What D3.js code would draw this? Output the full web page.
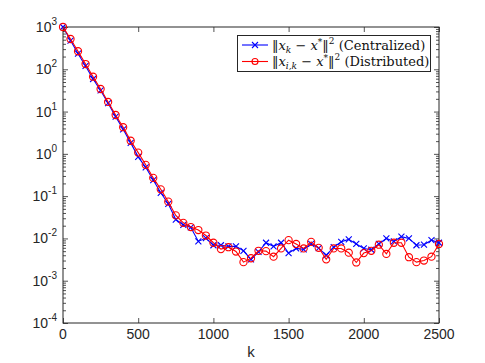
<!DOCTYPE html>
<html><head><meta charset="utf-8">
<script src="https://cdn.jsdelivr.net/npm/d3@7/dist/d3.min.js"></script>
<style>body{margin:0;background:#fff}svg{display:block}</style>
</head><body><svg id="c" width="485" height="363"></svg>
<script>
const kValues = [0,50,100,150,200,250,300,350,400,450,500,550,600,650,700,750,800,850,900,950,1000,1050,1100,1150,1200,1250,1300,1350,1400,1450,1500,1550,1600,1650,1700,1750,1800,1850,1900,1950,2000,2050,2100,2150,2200,2250,2300,2350,2400,2450,2500];
const centralized = [1000,479,234,120,58.9,31.6,15.8,7.6,3.8,1.82,0.85,0.48,0.24,0.12,0.066,0.028,0.0209,0.0182,0.0085,0.0102,0.0069,0.0069,0.0065,0.0065,0.0051,0.0032,0.0048,0.0079,0.0065,0.0079,0.0045,0.0058,0.0055,0.0074,0.0059,0.0040,0.0062,0.0083,0.0095,0.0074,0.0058,0.0054,0.0074,0.0100,0.0085,0.0110,0.0100,0.0069,0.0071,0.0091,0.0079];
const distributed = [1000,520,267,133,66.8,34.2,16.9,8.3,4.27,2.04,1.07,0.55,0.27,0.145,0.074,0.035,0.0234,0.0186,0.0158,0.0117,0.0079,0.0056,0.0062,0.0049,0.00275,0.0034,0.0051,0.0050,0.0037,0.0058,0.0091,0.0074,0.0058,0.0083,0.0060,0.0032,0.0058,0.0058,0.0046,0.0027,0.0045,0.0051,0.0071,0.0043,0.0079,0.0079,0.0036,0.00275,0.0030,0.0037,0.0074];
const xTicks = [0,500,1000,1500,2000,2500];
const yExponents = [3,2,1,0,-1,-2,-3,-4];
const xLabel = "k";

const L=63,R=439,T=27,B=323;
const svg=d3.select("#c");
const x=d3.scaleLinear().domain([0,2500]).range([L,R]);
const y=d3.scaleLog().domain([1e-4,1e3]).range([B,T]);
const axisCol="#262626";
const font="'Liberation Sans', Arial, sans-serif";

// minor ticks
const minor=[];
for(let e=-4;e<3;e++) for(let m=2;m<=9;m++) minor.push(m*Math.pow(10,e));
const g=svg.append("g");
g.append("g").attr("transform",`translate(${L},0)`).call(d3.axisRight(y).tickValues(minor).tickSize(3).tickFormat(""));
g.append("g").attr("transform",`translate(${L},0)`).call(d3.axisRight(y).tickValues(yExponents.map(e=>Math.pow(10,e))).tickSize(5).tickFormat(""));
g.append("g").attr("transform",`translate(${R},0)`).call(d3.axisLeft(y).tickValues(minor).tickSize(3).tickFormat(""));
g.append("g").attr("transform",`translate(${R},0)`).call(d3.axisLeft(y).tickValues(yExponents.map(e=>Math.pow(10,e))).tickSize(5).tickFormat(""));
g.append("g").attr("transform",`translate(0,${B})`).call(d3.axisTop(x).tickValues(xTicks).tickSize(5).tickFormat(""));
g.append("g").attr("transform",`translate(0,${T})`).call(d3.axisBottom(x).tickValues(xTicks).tickSize(5).tickFormat(""));
g.selectAll(".domain").remove();
g.selectAll(".tick line").attr("stroke",axisCol).attr("stroke-width",0.8);
svg.append("rect").attr("x",L).attr("y",T).attr("width",R-L).attr("height",B-T)
  .attr("fill","none").attr("stroke",axisCol).attr("stroke-width",1);

// tick labels
yExponents.forEach(e=>{
  const t=svg.append("text").attr("x",57).attr("y",y(Math.pow(10,e))+5)
    .attr("text-anchor","end").attr("font-family",font).attr("font-size",14).attr("fill",axisCol);
  t.append("tspan").text("10");
  t.append("tspan").attr("font-size",10).attr("dy",-7).text(e<0?"-"+(-e):String(e));
});
xTicks.forEach(v=>{
  svg.append("text").attr("x",x(v)).attr("y",339).attr("text-anchor","middle")
    .attr("font-family",font).attr("font-size",14).attr("fill",axisCol).text(v);
});
svg.append("text").attr("x",251).attr("y",357).attr("text-anchor","middle")
  .attr("font-family",font).attr("font-size",15).attr("fill",axisCol).text(xLabel);

// series
const line=d3.line().x(d=>x(d[0])).y(d=>y(d[1]));
const blueData=kValues.map((k,i)=>[k,centralized[i]]);
const redData=kValues.map((k,i)=>[k,distributed[i]]);
const plot=svg.append("g");
plot.append("path").datum(blueData).attr("d",line).attr("fill","none").attr("stroke","#0000ff").attr("stroke-width",1.1);
const cs=3;
plot.selectAll(".bx").data(blueData).enter().append("path")
  .attr("d",d=>{const px=x(d[0]),py=y(d[1]);return `M${px-cs},${py-cs}L${px+cs},${py+cs}M${px-cs},${py+cs}L${px+cs},${py-cs}`;})
  .attr("stroke","#0000ff").attr("stroke-width",1.1);
plot.append("path").datum(redData).attr("d",line).attr("fill","none").attr("stroke","#ff0000").attr("stroke-width",1.1);
plot.selectAll(".rc").data(redData).enter().append("circle")
  .attr("cx",d=>x(d[0])).attr("cy",d=>y(d[1])).attr("r",3.6)
  .attr("fill","none").attr("stroke","#ff0000").attr("stroke-width",1.1);

// legend
const lg=svg.append("g");
lg.append("rect").attr("x",237.5).attr("y",35.5).attr("width",193).attr("height",36)
  .attr("fill","#fff").attr("stroke",axisCol).attr("stroke-width",1);
const serif="'DejaVu Serif','Liberation Serif',serif";
function entry(yy,col,marker,sub,label){
  lg.append("line").attr("x1",242).attr("x2",268).attr("y1",yy).attr("y2",yy).attr("stroke",col).attr("stroke-width",1.1);
  if(marker==="x"){
    lg.append("path").attr("d",`M${255-cs},${yy-cs}L${255+cs},${yy+cs}M${255-cs},${yy+cs}L${255+cs},${yy-cs}`).attr("stroke",col).attr("stroke-width",1.1);
  } else {
    lg.append("circle").attr("cx",255).attr("cy",yy).attr("r",3).attr("fill","none").attr("stroke",col).attr("stroke-width",1.1);
  }
  const t=lg.append("text").attr("x",272).attr("y",yy+4.5).attr("font-family",serif).attr("font-size",13).attr("fill","#111");
  t.append("tspan").text("\u2016");
  t.append("tspan").attr("font-style","italic").text("x");
  t.append("tspan").attr("font-style","italic").attr("font-size",9).attr("dy",3).text(sub);
  t.append("tspan").attr("dy",-3).text(" \u2212 ");
  t.append("tspan").attr("font-style","italic").text("x");
  t.append("tspan").attr("font-size",9).attr("dy",-5).text("*");
  t.append("tspan").attr("dy",5).text("\u2016");
  t.append("tspan").attr("font-size",9).attr("dy",-6).text("2");
  t.append("tspan").attr("dy",6).text(" (" + label + ")");
}
entry(45,"#0000ff","x","k","Centralized");
entry(61.5,"#ff0000","o","i,k","Distributed");
</script></body></html>
